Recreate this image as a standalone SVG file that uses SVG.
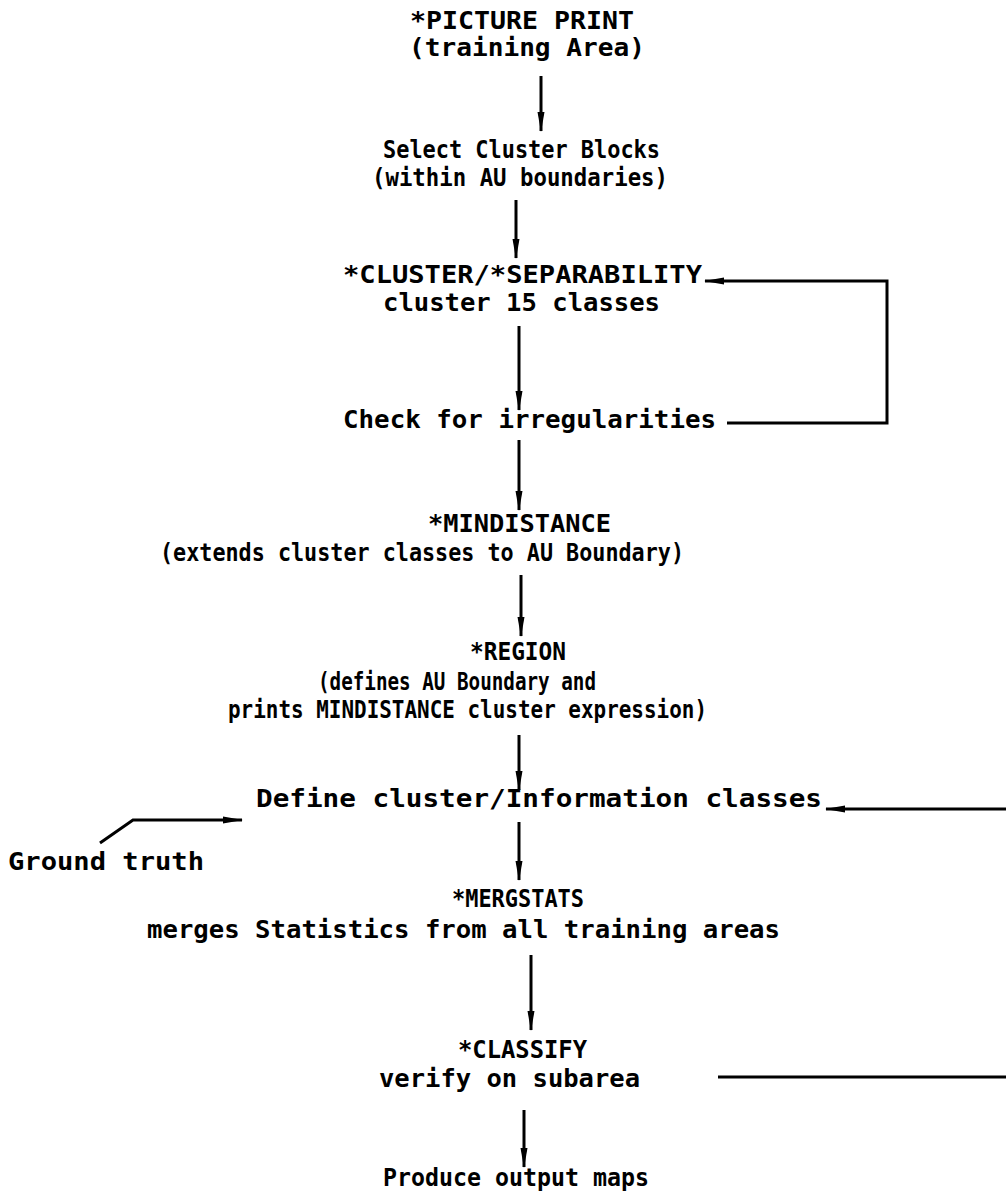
<svg xmlns="http://www.w3.org/2000/svg" width="1006" height="1192" viewBox="0 0 1006 1192">
<style>
text{font-family:"DejaVu Sans Mono","Liberation Mono",monospace;font-weight:bold;font-size:24px;fill:#000}
.ln{stroke:#000;stroke-width:3;fill:none}
</style>
<defs>
<marker id="ah" viewBox="0 0 20 8" refX="19" refY="4" markerWidth="20" markerHeight="8" markerUnits="userSpaceOnUse" orient="auto"><path d="M0,0.5 L20,4 L0,7.5 Z" fill="#000"/></marker>
</defs>
<rect width="1006" height="1192" fill="#fff"/>
<g id="n1"><text x="410" y="29" textLength="224" lengthAdjust="spacingAndGlyphs">*PICTURE PRINT</text><text x="409" y="56" textLength="236" lengthAdjust="spacingAndGlyphs">(training Area)</text></g>
<g id="n2"><text x="383" y="158" textLength="277" lengthAdjust="spacingAndGlyphs">Select Cluster Blocks</text><text x="372" y="186" textLength="296" lengthAdjust="spacingAndGlyphs">(within AU boundaries)</text></g>
<g id="n3"><text x="343" y="283" textLength="359" lengthAdjust="spacingAndGlyphs">*CLUSTER/*SEPARABILITY</text><text x="383" y="311" textLength="277" lengthAdjust="spacingAndGlyphs">cluster 15 classes</text></g>
<g id="n4"><text x="343" y="428" textLength="373" lengthAdjust="spacingAndGlyphs">Check for irregularities</text></g>
<g id="n5"><text x="428" y="532" textLength="183" lengthAdjust="spacingAndGlyphs">*MINDISTANCE</text><text x="160" y="561" textLength="524" lengthAdjust="spacingAndGlyphs">(extends cluster classes to AU Boundary)</text></g>
<g id="n6"><text x="470" y="660" textLength="96" lengthAdjust="spacingAndGlyphs">*REGION</text><text x="318" y="690" textLength="278" lengthAdjust="spacingAndGlyphs">(defines AU Boundary and</text><text x="228" y="718" textLength="479" lengthAdjust="spacingAndGlyphs">prints MINDISTANCE cluster expression)</text></g>
<g id="n7"><text x="256" y="807" textLength="566" lengthAdjust="spacingAndGlyphs">Define cluster/Information classes</text></g>
<g id="n8"><text x="8" y="870" textLength="196" lengthAdjust="spacingAndGlyphs">Ground truth</text></g>
<g id="n9"><text x="452" y="907" textLength="132" lengthAdjust="spacingAndGlyphs">*MERGSTATS</text><text x="147" y="938" textLength="633" lengthAdjust="spacingAndGlyphs">merges Statistics from all training areas</text></g>
<g id="n10"><text x="458" y="1058" textLength="129" lengthAdjust="spacingAndGlyphs">*CLASSIFY</text><text x="379" y="1087" textLength="261" lengthAdjust="spacingAndGlyphs">verify on subarea</text></g>
<g id="n11"><text x="383" y="1186" textLength="266" lengthAdjust="spacingAndGlyphs">Produce output maps</text></g>
<g id="connectors" class="ln">
<path d="M541,76 V131" marker-end="url(#ah)"/>
<path d="M516,200 V258" marker-end="url(#ah)"/>
<path d="M519,326 V410" marker-end="url(#ah)"/>
<path d="M727,423 H887 V281 H705" marker-end="url(#ah)"/>
<path d="M519,440 V510" marker-end="url(#ah)"/>
<path d="M521,575 V636" marker-end="url(#ah)"/>
<path d="M519,735 V790" marker-end="url(#ah)"/>
<path d="M100,843 L133,820 H242" marker-end="url(#ah)"/>
<path d="M1006,809 H826" marker-end="url(#ah)"/>
<path d="M519,822 V880" marker-end="url(#ah)"/>
<path d="M531,955 V1030" marker-end="url(#ah)"/>
<path d="M718,1077 H1006"/>
<path d="M524,1110 V1167" marker-end="url(#ah)"/>
</g>
</svg>
